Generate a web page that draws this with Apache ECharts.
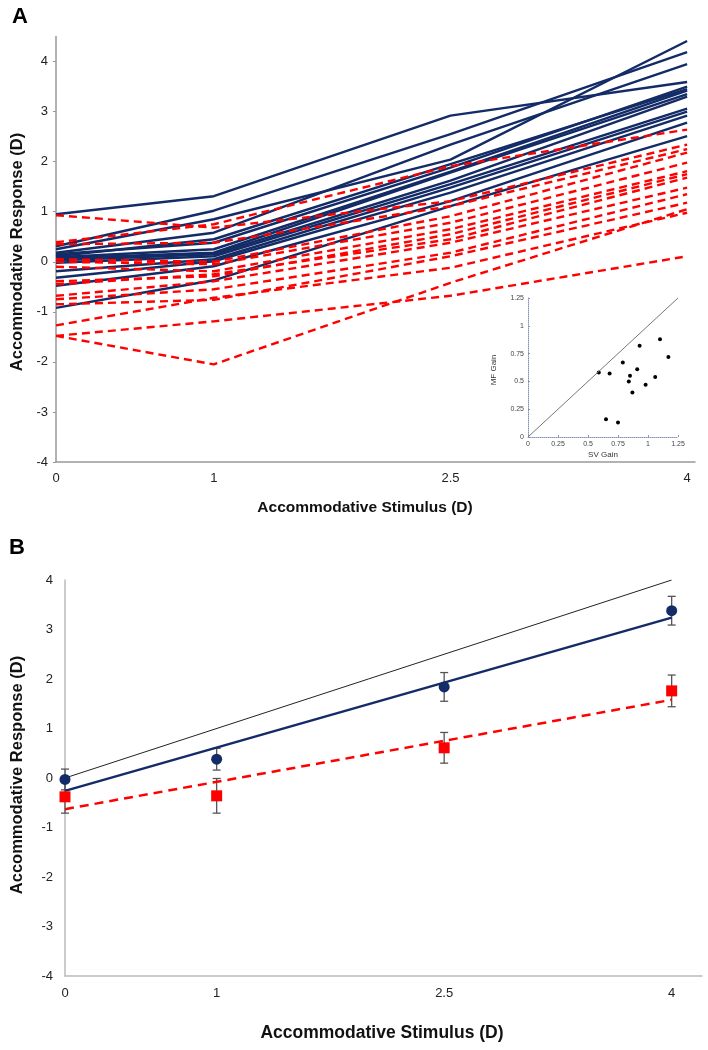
<!DOCTYPE html>
<html><head><meta charset="utf-8">
<script src="https://cdn.jsdelivr.net/npm/echarts@6/dist/echarts.min.js"></script>
<style>html,body{margin:0;padding:0;background:#fff}#c{width:708px;height:1050px}</style>
</head><body><div id="c"></div>
<script>
// ---------- DATA ----------
const stimulus = [0, 1, 2.5, 4];
const stimulusLabels = ['0', '1', '2.5', '4'];
const responseTicks = [-4, -3, -2, -1, 0, 1, 2, 3, 4];

// Panel A: individual responses, single vision (solid navy)
const svIndividual = [
  [0.95, 1.31, 2.92, 3.59],
  [0.31, 1.02, 2.55, 4.19],
  [0.25, 0.85, 2.04, 4.41],
  [0.18, 0.58, 2.34, 3.95],
  [0.11, 0.45, 1.95, 3.45],
  [0.15, 0.38, 1.88, 3.50],
  [0.09, 0.25, 1.80, 3.42],
  [0.07, 0.18, 1.78, 3.35],
  [0.03, 0.15, 1.62, 3.30],
  [-0.02, 0.11, 1.55, 3.06],
  [-0.19, 0.05, 1.48, 3.00],
  [-0.32, 0.01, 1.38, 2.92],
  [-0.48, -0.09, 1.21, 2.78],
  [-0.92, -0.37, 1.11, 2.51]
];
// Panel A: individual responses, multifocal (dashed red)
const mfIndividual = [
  [0.93, 0.68, 1.21, 2.34],
  [0.39, 0.75, 1.91, 2.64],
  [0.35, 0.38, 1.11, 2.25],
  [0.05, 0.00, 0.91, 2.18],
  [0.00, -0.05, 0.78, 1.98],
  [-0.10, -0.19, 0.65, 1.81],
  [-0.39, -0.29, 0.55, 1.75],
  [-0.45, -0.25, 0.45, 1.68],
  [-0.68, -0.39, 0.38, 1.48],
  [-0.75, -0.55, 0.18, 1.35],
  [-0.85, -0.76, 0.11, 1.18],
  [-1.27, -0.72, -0.12, 0.98],
  [-1.48, -1.19, -0.68, 0.11],
  [-1.48, -2.05, -0.42, 1.05]
];

// Inset: gains
const gainTicks = [0, 0.25, 0.5, 0.75, 1, 1.25];
const gainTickLabels = ['0', '0.25', '0.5', '0.75', '1', '1.25'];
const svGain = [0.59, 0.68, 0.79, 0.85, 0.84, 0.87, 0.91, 0.93, 0.98, 1.06, 1.10, 1.17, 0.65, 0.75];
const mfGain = [0.58, 0.57, 0.67, 0.55, 0.50, 0.40, 0.61, 0.82, 0.47, 0.54, 0.88, 0.72, 0.16, 0.13];
const unityGain = [0, 1.25];

// Panel B: means and error bars
const svMean = [-0.03, 0.38, 1.84, 3.38];
const svErr  = [0.21, 0.22, 0.29, 0.29];
const mfMean = [-0.38, -0.36, 0.61, 1.76];
const mfErr  = [0.33, 0.35, 0.31, 0.32];
const fitStimulus = [0, 4];
const svFit = [-0.26, 3.24];
const mfFit = [-0.63, 1.58];
const unityFit = [0, 4];

// ---------- STYLE ----------
const NAVY = '#132b66';
const RED = '#ff0000';
const FONT = 'Liberation Sans, Arial, sans-serif';

const series = [];
svIndividual.forEach((row) => series.push({
  type: 'line', xAxisIndex: 0, yAxisIndex: 0, symbol: 'none', silent: true,
  data: stimulus.map((s, j) => [s, row[j]]),
  lineStyle: { color: NAVY, width: 2.4 }, z: 2
}));
mfIndividual.forEach((row) => series.push({
  type: 'line', xAxisIndex: 0, yAxisIndex: 0, symbol: 'none', silent: true,
  data: stimulus.map((s, j) => [s, row[j]]),
  lineStyle: { color: RED, width: 2.4, type: [8, 5] }, z: 3
}));
// inset
series.push({
  type: 'line', xAxisIndex: 1, yAxisIndex: 1, symbol: 'none',
  data: unityGain.map(v => [v, v]), lineStyle: { color: '#777', width: 1 }
});
series.push({
  type: 'scatter', xAxisIndex: 1, yAxisIndex: 1, symbolSize: 4,
  data: svGain.map((v, i) => [v, mfGain[i]]), itemStyle: { color: '#000', opacity: 1 }
});

function errRender(params, api) {
  const x = api.value(0), lo = api.value(1), hi = api.value(2);
  const p1 = api.coord([x, hi]), p2 = api.coord([x, lo]);
  const w = 4;
  const st = { stroke: '#555', lineWidth: 1.3 };
  return { type: 'group', children: [
    { type: 'line', shape: { x1: p1[0], y1: p1[1], x2: p2[0], y2: p2[1] }, style: st },
    { type: 'line', shape: { x1: p1[0] - w, y1: p1[1], x2: p1[0] + w, y2: p1[1] }, style: st },
    { type: 'line', shape: { x1: p2[0] - w, y1: p2[1], x2: p2[0] + w, y2: p2[1] }, style: st }
  ]};
}
series.push({
  type: 'custom', xAxisIndex: 2, yAxisIndex: 2, renderItem: errRender, z: 2,
  encode: { x: 0, y: [1, 2] },
  data: stimulus.map((s, i) => [s, svMean[i] - svErr[i], svMean[i] + svErr[i]])
});
series.push({
  type: 'custom', xAxisIndex: 2, yAxisIndex: 2, renderItem: errRender, z: 2,
  encode: { x: 0, y: [1, 2] },
  data: stimulus.map((s, i) => [s, mfMean[i] - mfErr[i], mfMean[i] + mfErr[i]])
});
series.push({
  type: 'line', xAxisIndex: 2, yAxisIndex: 2, symbol: 'none', z: 3,
  data: fitStimulus.map((s, i) => [s, unityFit[i]]), lineStyle: { color: '#222', width: 1 }
});
series.push({
  type: 'line', xAxisIndex: 2, yAxisIndex: 2, symbol: 'none', z: 3,
  data: fitStimulus.map((s, i) => [s, svFit[i]]), lineStyle: { color: NAVY, width: 2.5 }
});
series.push({
  type: 'line', xAxisIndex: 2, yAxisIndex: 2, symbol: 'none', z: 3,
  data: fitStimulus.map((s, i) => [s, mfFit[i]]), lineStyle: { color: RED, width: 2.5, type: [9, 6] }
});
series.push({
  type: 'scatter', xAxisIndex: 2, yAxisIndex: 2, symbol: 'circle', symbolSize: 11, z: 4,
  data: stimulus.map((s, i) => [s, svMean[i]]), itemStyle: { color: NAVY, opacity: 1 }
});
series.push({
  type: 'scatter', xAxisIndex: 2, yAxisIndex: 2, symbol: 'rect', symbolSize: 11, z: 4,
  data: stimulus.map((s, i) => [s, mfMean[i]]), itemStyle: { color: RED, opacity: 1 }
});

const axisTxt = { fontFamily: FONT, fontSize: 13, color: '#222' };
const chart = echarts.init(document.getElementById('c'), null, { renderer: 'canvas' });
chart.setOption({
  animation: false,
  backgroundColor: '#fff',
  grid: [
    { left: 56, top: 36.5, width: 639, height: 425.5 },
    { left: 528, top: 298, width: 150, height: 139 },
    { left: 65, top: 580, width: 637, height: 396 }
  ],
  xAxis: [
    { type: 'value', gridIndex: 0, min: 0, max: 4.05, interval: 0.5,
      splitLine: { show: false }, axisTick: { show: false },
      axisLine: { onZero: false, lineStyle: { color: '#999', width: 1.5 } },
      axisLabel: { ...axisTxt, margin: 10, customValues: stimulus,
        formatter: v => stimulusLabels[stimulus.indexOf(v)] ?? '' } },
    { type: 'value', gridIndex: 1, min: 0, max: 1.25, interval: 0.25,
      splitLine: { show: false },
      axisTick: { show: true, length: 2, inside: true, lineStyle: { color: '#8a96b8' } },
      axisLine: { onZero: false, lineStyle: { color: '#8a96b8', width: 1, type: 'dotted' } },
      axisLabel: { fontFamily: FONT, fontSize: 7, color: '#444', margin: 4,
        formatter: v => gainTickLabels[gainTicks.indexOf(v)] ?? '' } },
    { type: 'value', gridIndex: 2, min: 0, max: 4.2, interval: 0.5,
      splitLine: { show: false }, axisTick: { show: false },
      axisLine: { onZero: false, lineStyle: { color: '#bbb', width: 1.5 } },
      axisLabel: { ...axisTxt, margin: 11, customValues: stimulus,
        formatter: v => stimulusLabels[stimulus.indexOf(v)] ?? '' } }
  ],
  yAxis: [
    { type: 'value', gridIndex: 0, min: -4, max: 4.5, interval: 1,
      splitLine: { show: false },
      axisTick: { show: true, length: 3, customValues: responseTicks, lineStyle: { color: '#999' } },
      axisLine: { show: true, onZero: false, lineStyle: { color: '#999', width: 1.5 } },
      axisLabel: { ...axisTxt, margin: 8, customValues: responseTicks, formatter: v => String(v) } },
    { type: 'value', gridIndex: 1, min: 0, max: 1.25, interval: 0.25,
      splitLine: { show: false },
      axisTick: { show: true, length: 2, inside: true, lineStyle: { color: '#8a96b8' } },
      axisLine: { show: true, onZero: false, lineStyle: { color: '#8a96b8', width: 1, type: 'dotted' } },
      axisLabel: { fontFamily: FONT, fontSize: 7, color: '#444', margin: 4,
        formatter: v => gainTickLabels[gainTicks.indexOf(v)] ?? '' } },
    { type: 'value', gridIndex: 2, min: -4, max: 4, interval: 1,
      splitLine: { show: false }, axisTick: { show: false },
      axisLine: { show: true, onZero: false, lineStyle: { color: '#bbb', width: 1.5 } },
      axisLabel: { ...axisTxt, margin: 12, formatter: v => String(v) } }
  ],
  graphic: [
    { type: 'text', left: 12, top: 6, style: { text: 'A', font: 'bold 22px ' + FONT, fill: '#000' } },
    { type: 'text', left: 9, top: 537, style: { text: 'B', font: 'bold 22px ' + FONT, fill: '#000' } },
    { type: 'text', x: 365, y: 508, style: { text: 'Accommodative Stimulus (D)', font: 'bold 15.5px ' + FONT, fill: '#111', align: 'center', verticalAlign: 'middle' } },
    { type: 'text', x: 17, y: 252, rotation: Math.PI / 2, style: { text: 'Accommodative Response (D)', font: 'bold 16.5px ' + FONT, fill: '#111', align: 'center', verticalAlign: 'middle' } },
    { type: 'text', x: 382, y: 1033, style: { text: 'Accommodative Stimulus (D)', font: 'bold 17.5px ' + FONT, fill: '#111', align: 'center', verticalAlign: 'middle' } },
    { type: 'text', x: 17, y: 775, rotation: Math.PI / 2, style: { text: 'Accommodative Response (D)', font: 'bold 16.5px ' + FONT, fill: '#111', align: 'center', verticalAlign: 'middle' } },
    { type: 'text', x: 603, y: 455, style: { text: 'SV Gain', font: '8px ' + FONT, fill: '#333', align: 'center', verticalAlign: 'middle' } },
    { type: 'text', x: 494, y: 370, rotation: Math.PI / 2, style: { text: 'MF Gain', font: '8px ' + FONT, fill: '#333', align: 'center', verticalAlign: 'middle' } }
  ],
  series
});
</script></body></html>
